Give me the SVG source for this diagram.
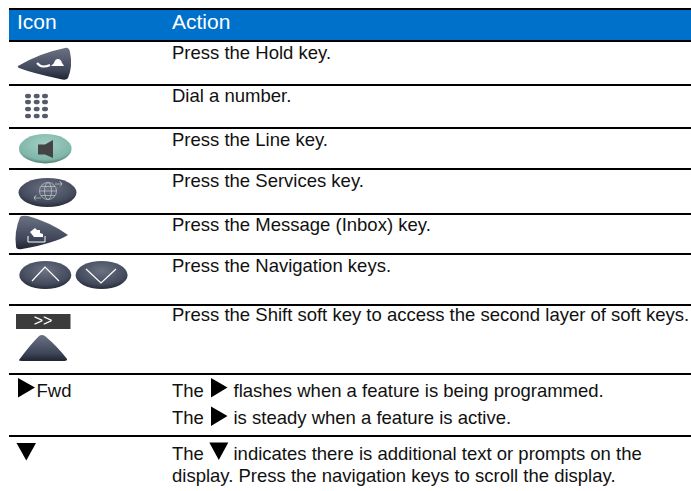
<svg xmlns="http://www.w3.org/2000/svg" width="691" height="491" viewBox="0 0 691 491">
<style>
text{font-family:"Liberation Sans",Arial,sans-serif;font-size:18.5px;fill:#111}
.h{font-size:21px;fill:#fff}
.r{fill:#000}
</style>
<defs>
<linearGradient id="d" x1="0" y1="0" x2="0" y2="1"><stop offset="0" stop-color="#6b7284"/><stop offset=".7" stop-color="#3f4659"/><stop offset="1" stop-color="#1f2430"/></linearGradient>
<radialGradient id="g" cx=".5" cy=".35" r=".7"><stop offset="0" stop-color="#a3d0c4"/><stop offset=".75" stop-color="#7fb5a8"/><stop offset="1" stop-color="#3f6a60"/></radialGradient>
<radialGradient id="e" cx=".5" cy=".35" r=".7"><stop offset="0" stop-color="#6b7282"/><stop offset=".7" stop-color="#434a5c"/><stop offset="1" stop-color="#1e2230"/></radialGradient>
</defs>
<rect width="691" height="491" fill="#fff"/>
<rect x="9" y="9" width="682" height="32" fill="#0071cb"/>
<g id="rules">
<rect class="r" x="9" y="8" width="682" height="2"/>
<rect class="r" x="9" y="40" width="682" height="2"/>
<rect class="r" x="9" y="84" width="682" height="2"/>
<rect class="r" x="9" y="127" width="682" height="2"/>
<rect class="r" x="9" y="168" width="682" height="2"/>
<rect class="r" x="9" y="213" width="682" height="2"/>
<rect class="r" x="9" y="253" width="682" height="2"/>
<rect class="r" x="9" y="304" width="682" height="2"/>
<rect class="r" x="9" y="373" width="682" height="2"/>
<rect class="r" x="9" y="435" width="682" height="2"/>
</g>
<text class="h" x="17" y="29">Icon</text>
<text class="h" x="172" y="29">Action</text>
<g id="hold"><path d="M18 66Q40 53 65 48Q69 47 70 52Q73 66 68 78Q66 81 60 79Q32 73 19 68Q17 67 18 66Z" fill="url(#d)"/><path d="M37 63q5 6 13 2" fill="none" stroke="#fff" stroke-width="2"/><path d="M51 66q2-2 3-3 1-4 4-4 3 0 4 4 1 1 2 3z" fill="#fff"/></g>
<g id="dial" fill="#555b6b"><ellipse cx="28" cy="96" rx="3" ry="2.300"/><ellipse cx="36.700" cy="96" rx="3" ry="2.300"/><ellipse cx="45" cy="96" rx="3" ry="2.300"/><ellipse cx="28" cy="102" rx="3" ry="2.300"/><ellipse cx="36.700" cy="102" rx="3" ry="2.300"/><ellipse cx="45" cy="102" rx="3" ry="2.300"/><ellipse cx="28" cy="109" rx="3" ry="2.300"/><ellipse cx="36.700" cy="109" rx="3" ry="2.300"/><ellipse cx="45" cy="109" rx="3" ry="2.300"/><ellipse cx="28" cy="116" rx="3" ry="2.300"/><ellipse cx="36.700" cy="116" rx="3" ry="2.300"/><ellipse cx="45" cy="116" rx="3" ry="2.300"/></g>
<g id="line"><ellipse cx="45.300" cy="148.700" rx="26.300" ry="14.700" fill="url(#g)"/><path d="M38 144.500h7l8-4.500v18l-8-3.500h-7z" fill="#444"/></g>
<g id="services"><ellipse cx="47.500" cy="192.500" rx="29" ry="14.500" fill="url(#e)"/><g fill="none" stroke="#c4c8d0" stroke-width=".7"><circle cx="48" cy="191" r="8.500"/><ellipse cx="48" cy="191" rx="3.500" ry="8.500"/><path d="M39.500 191h17M41 186.500h14M41 195.500h14M55 184h7l-2-2.500 2 2.500-2 2.500M41 198h-7l2-2.500-2 2.500 2 2.500"/></g></g>
<g id="message"><path d="M20 217Q22 215 28 216Q50 222 68 235Q55 243 22 249Q16 250 16 246Q14 232 20 217Z" fill="url(#d)"/><path d="M28 236v6h17v-6" fill="none" stroke="#fff"/><path d="M30 232l5-4 2 2h3v3l3 1v3h-9z" fill="#fff"/></g>
<g id="nav"><ellipse cx="45.300" cy="275" rx="26" ry="14" fill="url(#e)"/><ellipse cx="101.600" cy="275" rx="26" ry="14" fill="url(#e)"/><path d="M32 281l13-14 14 14M86 269l15 14 15-14" fill="none" stroke="#fff" stroke-width="1.200"/></g>
<g id="shift"><rect x="16" y="314" width="54.500" height="15" fill="#3b3b3b"/><text x="43" y="326" text-anchor="middle" style="fill:#fff;font-size:16px">&gt;&gt;</text><path d="M19 360Q30 345 39 336Q42 334 45 336Q58 347 67 359Q68 361 62 361H25Q18 361 19 360Z" fill="url(#d)"/></g>
<g id="fwd"><path d="M18 378l17 9.500-17 10z" fill="#000"/><text x="36.500" y="397">Fwd</text></g>
<g id="down"><path d="M16.500 443h19.500l-9.700 17.500z" fill="#000"/></g>
<g id="actions">
<text x="172" y="59">Press the Hold key.</text>
<text x="172" y="102">Dial a number.</text>
<text x="172" y="145.500">Press the Line key.</text>
<text x="172" y="186.500">Press the Services key.</text>
<text x="172" y="230.500">Press the Message (Inbox) key.</text>
<text x="172" y="272">Press the Navigation keys.</text>
<text x="172" y="321">Press the Shift soft key to access the second layer of soft keys.</text>
<text x="172" y="396.500">The</text><text x="233.500" y="396.500">flashes when a feature is being programmed.</text>
<text x="172" y="424">The</text><text x="233.500" y="424">is steady when a feature is active.</text>
<text x="172" y="460">The</text><text x="233.500" y="460">indicates there is additional text or prompts on the</text>
<text x="172" y="481.500">display. Press the navigation keys to scroll the display.</text>
<path d="M211 378l16.500 9.500-16.500 10zM211 406.500l16.500 9.500-16.500 10zM209.300 442.500h19l-9.500 17.500z" fill="#000"/>
</g>
</svg>
